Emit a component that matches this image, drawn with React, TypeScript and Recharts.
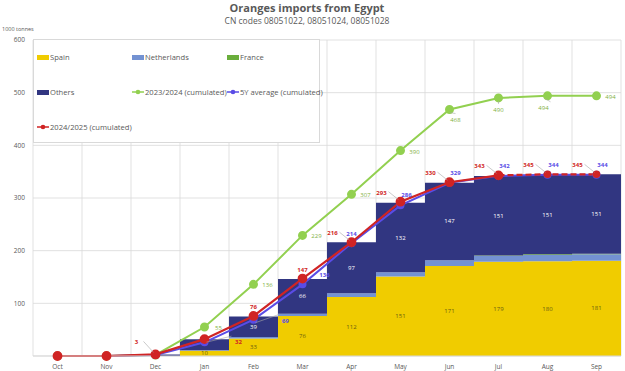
// Oranges imports from Egypt – stacked cumulative bars + season lines
import React from 'react'
import { ComposedChart, Bar, Line, XAxis, YAxis, CartesianGrid, LabelList } from 'recharts'

const months = ['Oct', 'Nov', 'Dec', 'Jan', 'Feb', 'Mar', 'Apr', 'May', 'Jun', 'Jul', 'Aug', 'Sep']
const spain = [0, 0, 0, 10, 33, 76, 112, 151, 171, 179, 180, 181]
const netherlands = [0, 0, 0, 1, 3, 4, 7, 8, 11, 11, 12, 12]
const france = [0, 0, 0, 0, 0, 0, 0, 0, 0, 1, 1, 1]
const others = [0, 0, 3, 21, 39, 66, 97, 132, 147, 151, 151, 151]
const season2324 = [0, 0, 2, 55, 136, 229, 307, 390, 468, 490, 494, 494]
const avg5y = [0, 0, 2, 26, 69, 136, 214, 286, 329, 342, 344, 344]
const season2425 = [0, 0, 3, 32, 76, 147, 216, 293, 330, 343, 345, 345]
const yTicks = [100, 200, 300, 400, 500, 600]

const FONT = '"Open Sans", "Noto Sans", sans-serif'
const C = {
  spain: '#F0CC00',
  nl: '#7392D2',
  france: '#6AAE3C',
  others: '#313681',
  green: '#92D050',
  blue: '#5A4CE6',
  red: '#D02424',
  grid: '#D9D9D9',
  text: '#595959',
}

const legendItems = [
  { name: 'Spain', color: C.spain, kind: 'bar' },
  { name: 'Netherlands', color: C.nl, kind: 'bar' },
  { name: 'France', color: C.france, kind: 'bar' },
  { name: 'Others', color: C.others, kind: 'bar' },
  { name: '2023/2024 (cumulated)', color: C.green, kind: 'line' },
  { name: '5Y average (cumulated)', color: C.blue, kind: 'line' },
  { name: '2024/2025 (cumulated)', color: C.red, kind: 'line' },
]

function SpainLabel(props: any) {
  const { x, y, width, height, value } = props
  if (!value) return null
  return (
    <text x={x + width / 2} y={y + height / 2 + 2} textAnchor="middle" fontSize={6} fill="#6b5c10" fontFamily={FONT}>
      {value}
    </text>
  )
}

function OthersLabel(props: any) {
  const { x, y, width, height, value } = props
  if (!value || value < 30) return null
  return (
    <text x={x + width / 2} y={y + height / 2 + 2} textAnchor="middle" fontSize={6} fill="#ffffff" fontFamily={FONT}>
      {value}
    </text>
  )
}

function PointLabel({ x, y, value, dx, dy, color, bold, lead }: any) {
  const tx = x + dx
  const ty = y + dy
  return (
    <g>
      {lead && (
        <line
          x1={tx + (dx < -3 ? 7 : dx > 8 ? -7 : 0)}
          y1={ty + (dy < 0 ? -1 : -6)}
          x2={x + (dx < -3 ? -2 : dx > 8 ? 2 : 0)}
          y2={y + (dy < 0 ? -2 : 3)}
          stroke="#A6A6A6"
          strokeWidth={0.6}
        />
      )}
      <text x={tx} y={ty + 2} textAnchor="middle" fontSize={6} fontWeight={bold ? 700 : 400} fill={color} fontFamily={FONT}>
        {value}
      </text>
    </g>
  )
}

function RedLabel(props: any) {
  const { index } = props
  if (index < 2) return null
  let dx = -19, dy = -9, lead = true
  if (index === 2) { dx = -19; dy = -12 }
  if (index === 3) { dx = 34; dy = 3 }
  if (index === 4 || index === 5) { dx = 0; dy = -9; lead = false }
  return <PointLabel {...props} dx={dx} dy={dy} color={C.red} bold lead={lead} />
}

function RedForecastLabel(props: any) {
  if (props.index < 10) return null
  return <RedLabel {...props} />
}

function BlueLabel(props: any) {
  const { index } = props
  if (index < 4) return null
  let dx = 6, dy = -10, lead = false
  if (index === 4) { dx = 32; dy = 1; lead = true }
  if (index === 5) { dx = 22; dy = -9 }
  if (index === 6) { dx = 0; dy = -9 }
  return <PointLabel {...props} dx={dx} dy={dy} color={C.blue} bold lead={lead} />
}

function GreenLabel(props: any) {
  const { index } = props
  if (index < 3) return null
  let dx = 14, dy = 1, lead = false
  if (index === 8) { dx = 6; dy = 10; lead = true }
  if (index === 9) { dx = 0; dy = 12; lead = true }
  if (index === 10) { dx = -4; dy = 12; lead = true }
  return <PointLabel {...props} dx={dx} dy={dy} color="#7FB13F" lead={lead} />
}

export default function App() {
  const data = months.map((m, i) => ({
    month: m,
    spain: spain[i],
    netherlands: netherlands[i],
    france: france[i],
    others: others[i],
    s2324: season2324[i],
    avg: avg5y[i],
    s2425: i <= 9 ? season2425[i] : null,
    s2425f: i >= 9 ? season2425[i] : null,
  }))

  return (
    <div style={{ position: 'absolute', left: 0, top: 0, width: 625, height: 371, background: '#fff', fontFamily: FONT }}>
      <div style={{ position: 'absolute', left: 0, top: 0, width: 614, textAlign: 'center', fontSize: 11, fontWeight: 700, color: C.text }}>
        Oranges imports from Egypt
      </div>
      <div style={{ position: 'absolute', left: 0, top: 15, width: 614, textAlign: 'center', fontSize: 8.5, color: C.text }}>
        CN codes 08051022, 08051024, 08051028
      </div>
      <div style={{ position: 'absolute', left: 2, top: 25, fontSize: 5.5, color: C.text }}>1000 tonnes</div>
      <ComposedChart
        width={625}
        height={371}
        data={data}
        margin={{ top: 40, right: 4, bottom: 0, left: 0 }}
        barCategoryGap={0}
      >
        <CartesianGrid
          stroke={C.grid}
          strokeWidth={0.8}
          verticalCoordinatesGenerator={(p: any) => {
            const o = p.offset
            return months.map((_, i) => o.left + (i * o.width) / months.length).concat([o.left + o.width])
          }}
        />
        <XAxis
          dataKey="month"
          height={15}
          tickLine={false}
          axisLine={{ stroke: C.grid }}
          tick={{ fontSize: 6.5, fill: C.text, fontFamily: FONT }}
          tickMargin={2}
          interval={0}
        />
        <YAxis
          width={33}
          domain={[0, 600]}
          ticks={yTicks}
          tickLine={false}
          axisLine={false}
          tick={{ fontSize: 6.5, fill: C.text, fontFamily: FONT }}
        />
        <Bar dataKey="spain" stackId="a" fill={C.spain} isAnimationActive={false}>
          <LabelList dataKey="spain" content={SpainLabel} />
        </Bar>
        <Bar dataKey="netherlands" stackId="a" fill={C.nl} isAnimationActive={false} />
        <Bar dataKey="france" stackId="a" fill={C.france} isAnimationActive={false} />
        <Bar dataKey="others" stackId="a" fill={C.others} isAnimationActive={false}>
          <LabelList dataKey="others" content={OthersLabel} />
        </Bar>
        <Line
          dataKey="s2324"
          stroke={C.green}
          strokeWidth={2}
          dot={{ r: 3.5, fill: C.green, stroke: C.green }}
          isAnimationActive={false}
        >
          <LabelList dataKey="s2324" content={GreenLabel} />
        </Line>
        <Line
          dataKey="avg"
          stroke={C.blue}
          strokeWidth={2}
          dot={{ r: 3, fill: C.blue, stroke: C.blue }}
          isAnimationActive={false}
        >
          <LabelList dataKey="avg" content={BlueLabel} />
        </Line>
        <Line
          dataKey="s2425"
          stroke={C.red}
          strokeWidth={2.2}
          dot={{ r: 3.8, fill: C.red, stroke: C.red }}
          isAnimationActive={false}
        >
          <LabelList dataKey="s2425" content={RedLabel} />
        </Line>
        <Line
          dataKey="s2425f"
          stroke={C.red}
          strokeWidth={2.2}
          strokeDasharray="6 3"
          dot={(p: any) =>
            p.index >= 10 ? (
              <circle key={`fd-${p.index}`} cx={p.cx} cy={p.cy} r={3.8} fill={C.red} />
            ) : (
              <g key={`fd-${p.index}`} />
            )
          }
          isAnimationActive={false}
        >
          <LabelList dataKey="s2425f" content={RedForecastLabel} />
        </Line>
      </ComposedChart>
      <div
        style={{
          position: 'absolute',
          left: 33,
          top: 39,
          width: 287,
          height: 104,
          background: '#fff',
          border: `1px solid ${C.grid}`,
          boxSizing: 'border-box',
        }}
      >
        {legendItems.map((it, i) => (
          <div
            key={it.name}
            style={{
              position: 'absolute',
              left: 3 + (i % 3) * 95,
              top: 12 + Math.floor(i / 3) * 35,
              display: 'flex',
              alignItems: 'center',
              fontSize: 7.6,
              color: C.text,
              whiteSpace: 'nowrap',
            }}
          >
            {it.kind === 'bar' ? (
              <span style={{ display: 'inline-block', width: 12, height: 5, background: it.color }} />
            ) : (
              <svg width={12} height={8}>
                <line x1={0} y1={4} x2={12} y2={4} stroke={it.color} strokeWidth={1.5} />
                <circle cx={6} cy={4} r={2.3} fill={it.color} />
              </svg>
            )}
            <span style={{ marginLeft: 1 }}>{it.name}</span>
          </div>
        ))}
      </div>
    </div>
  )
}
